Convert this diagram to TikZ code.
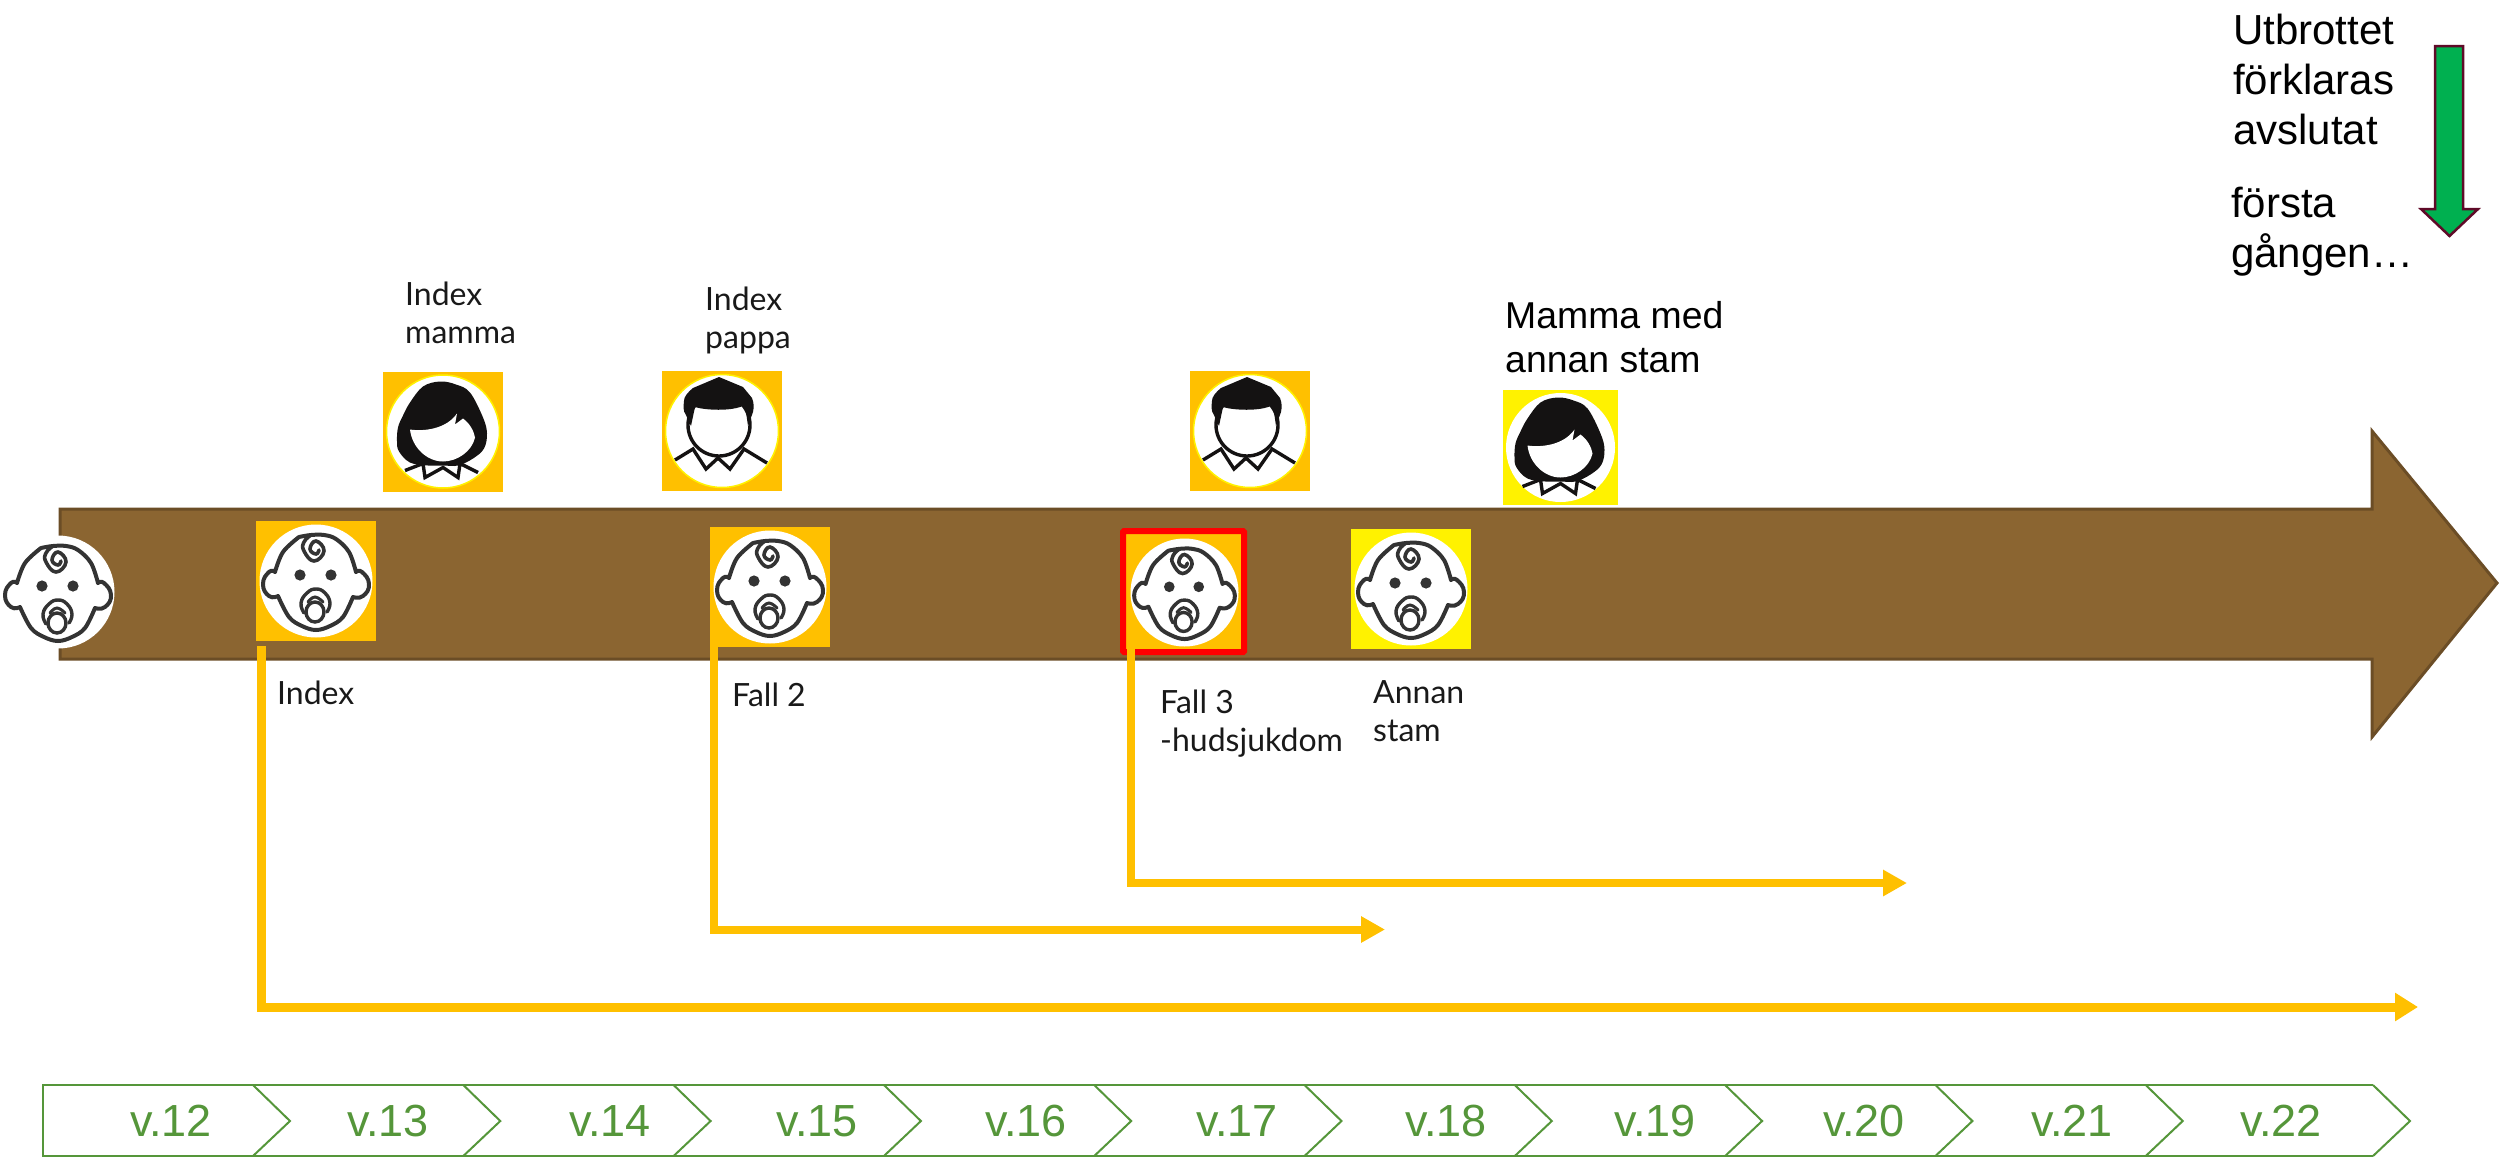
\documentclass[tikz,border=0pt]{standalone}
\usepackage{fontspec}
\setmainfont{Liberation Sans}
\newfontfamily\lblfont{Lato}
\usetikzlibrary{arrows.meta}
\definecolor{brownfill}{HTML}{8B6531}
\definecolor{brownline}{HTML}{6B4D26}
\definecolor{amber}{HTML}{FFC000}
\definecolor{weekgreen}{HTML}{55963A}
\definecolor{inkdark}{HTML}{333333}
\definecolor{inkblack}{HTML}{141212}
\definecolor{flaggreen}{HTML}{00B050}
\definecolor{flagline}{HTML}{5F0A28}
\tikzset{
  x=1pt,y=-1pt,
  tile/.style={minimum size=120pt,inner sep=0,outer sep=0,draw=none},
  amber tile/.style={tile,fill=amber},
  yellow tile/.style={tile,fill=yellow},
  disc/.style={circle,fill=white,inner sep=0,outer sep=0,minimum size=#1},
  lbl/.style={anchor=base west,inner sep=0,align=left,font=\lblfont\fontsize{32}{38}\selectfont,text=black!90},
  arial med/.style={anchor=base west,inner sep=0,align=left,font=\fontsize{37.4}{44}\selectfont,text=black},
  arial big/.style={anchor=base west,inner sep=0,align=left,font=\fontsize{42}{50}\selectfont,text=black},
  lane/.style={draw=amber,line width=8pt,-{Triangle[length=24pt,width=25pt]}},
  wide lane/.style={draw=amber,line width=9pt,-{Triangle[length=23pt,width=27pt]}},
  week/.style={anchor=base,inner sep=0,text=weekgreen,font=\fontsize{45}{50}\selectfont},
  chev/.style={draw=weekgreen,line width=2pt,line join=miter},
  baby/.pic={
    \draw[inkdark,line width=4pt,line join=round,line cap=round]
      plot[smooth,tension=.6] coordinates {(-17,-44)(-5,-46)(8,-46)(20,-42)(33,-29)(40,-9)}
      plot[smooth,tension=.9] coordinates {(40,-9)(46,-9)(53,3)(47,15)(37,16)}
      plot[smooth,tension=.6] coordinates {(37,16)(27,36)(14,45)(0,49)(-14,45)(-27,36)(-38,15)}
      plot[smooth,tension=.9] coordinates {(-38,15)(-47,15)(-53,3)(-47,-9)(-41,-9)}
      plot[smooth,tension=.6] coordinates {(-41,-9)(-33,-29)(-17,-44)};
    \draw[inkdark,line width=3.6pt,line cap=round]
      plot[smooth,tension=.8] coordinates {(-5,-46)(-12,-39)(-12,-30)(-2,-20)(8,-30)(0,-40)(-6,-32)(0,-27)(3,-31)};
    \fill[inkdark] (-16,-6) circle[radius=5.6] (15,-6) circle[radius=5.6];
    \draw[inkdark,line width=3.4pt,line cap=round]
      plot[smooth,tension=.8] coordinates {(-12,32)(-15,22)(-9,12)(0,8)(9,12)(14,22)(11,31)};
    \draw[inkdark,line width=3pt,line cap=round]
      plot[smooth,tension=.8] coordinates {(-8,21)(-1,16)(7,21)};
    \draw[inkdark,line width=3.4pt] (-1,31) ellipse[x radius=9,y radius=10];
  },
  mother/.pic={
    \fill[inkblack] plot[smooth cycle,tension=.6] coordinates
      {(-3,-50)(-20,-45)(-33,-29)(-40,-16)(-45,-4)(-46,10)(-44,20)(-33,31)(-15,34)(0,34)(15,34)(30,27)(41,17)(44,2)(40,-14)(27,-39)(13,-47)};
    \fill[white] (-33,-2) .. controls (-20,0) and (3,-2) .. (14,-18)
      -- (12,-7) -- (20,-13) .. controls (27,-8) and (31,0) .. (32,6)
      .. controls (29,20) and (14,30) .. (0,30) .. controls (-16,30) and (-31,16) .. (-33,-2) -- cycle;
    \draw[inkblack,line width=3.4pt,line join=miter] (-38,39) -- (-20,32) -- (-18,46) -- (0,36) -- (15,46) -- (17,32) -- (35,41);
  },
  father/.pic={
    \draw[fill=white,draw=inkblack,line width=3.4pt] (-3,-6) circle[radius=31];
    \draw[inkblack,line width=3.4pt,line join=miter]
      (-47,29) -- (-29,18) -- (-16,38) -- (-4,27) -- (8,38) -- (22,18) -- (45,32);
    \fill[inkblack] (-3,-54) -- (-29,-43) .. controls (-35,-38) and (-38,-34) .. (-38,-30)
      .. controls (-39,-24) and (-38,-18) .. (-37,-18)
      -- (-31,-5) -- (-27,-24) .. controls (-18,-21) and (10,-19) .. (23,-26)
      -- (26,-5) -- (31,-19) .. controls (32,-24) and (32,-28) .. (30,-33)
      -- (21,-44) -- cycle;
  },
}
\begin{document}
\begin{tikzpicture}
\useasboundingbox (0,0) rectangle (2503,1157);
% timeline
\draw[fill=brownfill,draw=brownline,line width=3pt,line join=miter]
  (60,509) -- (2372,509) -- (2372,431) -- (2497,583) -- (2372,737) -- (2372,659) -- (60,659) -- cycle;
% start baby
\node[disc=113pt] (b0) at (58,592) {};
\pic at (58,592) {baby};
% tiles
\node[amber tile] (tIndex) at (316,581) {};
\node[disc=113pt] (dIndex) at (316,581) {};
\pic at (316,581) {baby};
\node[amber tile] (tFall2) at (770,587) {};
\node[disc=113pt] (dFall2) at (770,587) {};
\pic at (770,587) {baby};
\node[amber tile,draw=red,line width=6pt,minimum size=121pt,rounded corners=1pt] (tFall3) at (1183.5,591.5) {};
\node[disc=108pt] (dFall3) at (1184.5,592.5) {};
\pic[scale=.95] at (1184.5,592.5) {baby};
\node[yellow tile] (tAnnan) at (1411,589) {};
\node[disc=113pt] (dAnnan) at (1411,589) {};
\pic at (1411,589) {baby};
\node[amber tile] (tMamma) at (443,431.5) {};
\node[disc=113pt,draw=yellow,line width=1.5pt] (dMamma) at (443,431.5) {};
\pic at (443,431.5) {mother};
\node[amber tile] (tPappa) at (722,431) {};
\node[disc=113pt,draw=yellow,line width=1.5pt] (dPappa) at (722,431) {};
\pic at (722,431) {father};
\node[amber tile] (tPappa2) at (1250,431) {};
\node[disc=113pt,draw=yellow,line width=1.5pt] (dPappa2) at (1250,431) {};
\pic at (1250,431) {father};
\node[yellow tile,minimum size=115pt] (tMamma2) at (1560.5,447.5) {};
\node[disc=109pt] (dMamma2) at (1560.5,447.5) {};
\pic at (1560.5,447.5) {mother};
% lanes
\coordinate (s1) at (261,646);
\coordinate (e1) at (2418,1007);
\coordinate (s2) at (714,647);
\coordinate (e2) at (1385,929.5);
\coordinate (s3) at (1130.5,649);
\coordinate (e3) at (1907,883);
\draw[wide lane] (s1) |- (e1);
\draw[lane] (s2) |- (e2);
\draw[lane] (s3) |- (e3);
% labels
\node[lbl] (lMamma) at (405,343) {Index\\mamma};
\node[lbl] (lPappa) at (705,348) {Index\\pappa};
\node[lbl] (lIndex) at (277,704) {Index};
\node[lbl] (lFall2) at (732,706) {Fall 2};
\node[lbl] (lFall3) at (1160,751) {Fall 3\\-hudsjukdom};
\node[lbl] (lAnnan) at (1373,741) {Annan\\stam};
\node[arial med] (lMed) at (1505,372) {Mamma med\\annan stam};
\node[arial big] (lUt) at (2233,144) {Utbrottet\\förklaras\\avslutat};
\node[arial big] (lFo) at (2231,267) {första\\gången…};
% green arrow
\draw[fill=flaggreen,draw=flagline,line width=2.5pt,line join=miter]
  (2435,46) -- (2463,46) -- (2463,209) -- (2478,209) -- (2449.5,236) -- (2421,209) -- (2435,209) -- cycle;
% weeks
\draw[chev] (2373,1085) -- (43,1085) -- (43,1156) -- (2373,1156);
\draw[chev] (2373,1085) -- (2410,1121) -- (2373,1156);
\foreach \i in {0,...,9} {
  \pgfmathsetmacro{\tipx}{290+210.3*\i}
  \draw[chev] ({\tipx-37},1085) -- (\tipx,1121) -- ({\tipx-37},1156);
}
\foreach \name/\cx in {12/171,13/388,14/610,15/817,16/1026,17/1237,18/1446,19/1655,20/1864,21/2072,22/2281} {
  \node[week] (w\name) at (\cx,1136) {v.\name};
}
\end{tikzpicture}
\end{document}
